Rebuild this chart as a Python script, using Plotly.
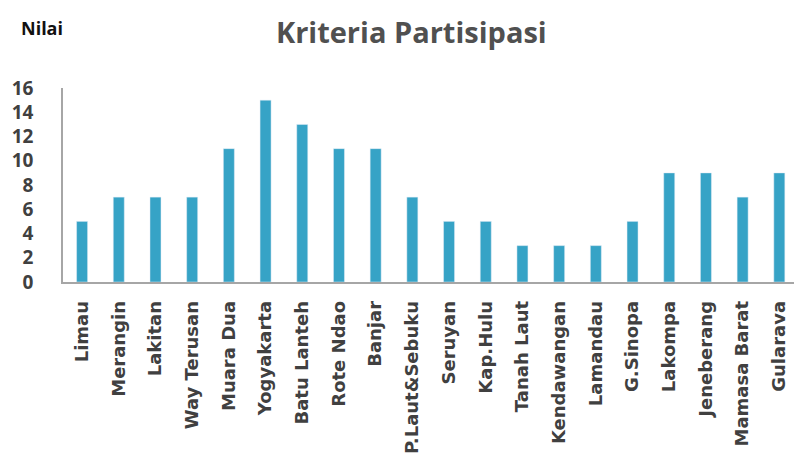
import plotly.graph_objects as go

lokasi = ["Limau", "Merangin", "Lakitan", "Way Terusan", "Muara Dua", "Yogyakarta",
          "Batu Lanteh", "Rote Ndao", "Banjar", "P.Laut&Sebuku", "Seruyan", "Kap.Hulu",
          "Tanah Laut", "Kendawangan", "Lamandau", "G.Sinopa", "Lakompa", "Jeneberang",
          "Mamasa Barat", "Gularava"]
nilai = [5, 7, 7, 7, 11, 15, 13, 11, 11, 7, 5, 5, 3, 3, 3, 5, 9, 9, 7, 9]

fig = go.Figure(go.Bar(x=lokasi, y=nilai, marker_color="#36A3C6", width=0.3))

fig.update_layout(
    width=794, height=476,
    margin=dict(l=63, r=0, t=88, b=194),
    plot_bgcolor="white", paper_bgcolor="white",
    showlegend=False,
    font=dict(family="Open Sans", color="#404040"),
    title=dict(text="<b>Kriteria Partisipasi</b>", x=0.518, xanchor="center",
               y=0.93, yanchor="middle", font=dict(size=29, color="#505050")),
)
fig.add_annotation(text="<b>Nilai</b>", xref="paper", yref="paper", x=-0.06, y=1.31,
                   xanchor="left", yanchor="middle", showarrow=False,
                   font=dict(size=18, color="#111111"))
fig.update_xaxes(
    range=[-0.52, 19.4], showline=True, linecolor="#A6A6A6", linewidth=1.5,
    tickangle=-90, ticks="", ticklabelstandoff=10, automargin=False,
    tickfont=dict(family="DejaVu Sans", size=18, weight="bold", color="#404040"),
    showgrid=False,
)
fig.update_yaxes(
    range=[0, 16], dtick=2, showline=True, linecolor="#A6A6A6", linewidth=1.5,
    tickfont=dict(size=19, weight="bold", color="#404040"), ticks="",
    showgrid=False, zeroline=False, ticklabelstandoff=24, automargin=False,
)

# page body has a default 8px margin; drop it so the figure sits at 0,0
fig.write_html("out.html", config={"displayModeBar": False},
               post_script="document.body.style.margin='0';")
